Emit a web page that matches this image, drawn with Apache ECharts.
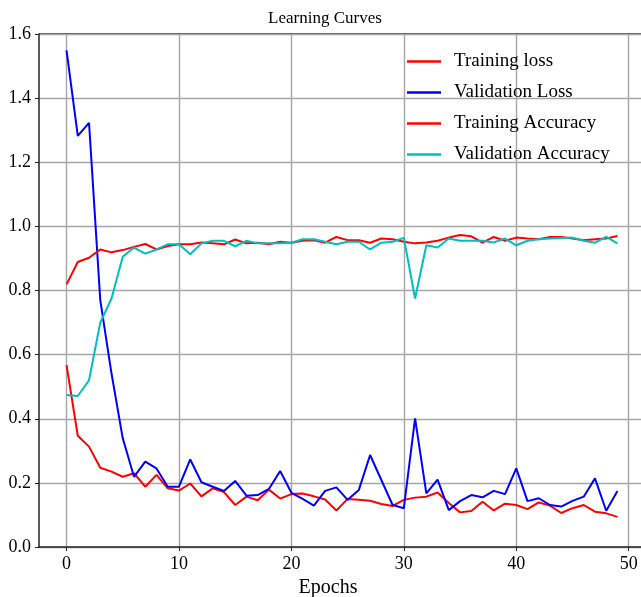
<!DOCTYPE html>
<html>
<head>
<meta charset="utf-8">
<script src="https://cdn.jsdelivr.net/npm/echarts@6/dist/echarts.min.js"></script>
<style>
html,body{margin:0;padding:0;background:#fff;overflow:hidden;}
#chart{width:650px;height:597px;}
</style>
</head>
<body>
<div id="chart"></div>
<script>
const epochs = Array.from({length: 50}, (_, i) => i);
const xTicks = [0, 10, 20, 30, 40, 50];
const seriesNames = ["Training loss", "Validation Loss", "Training Accuracy", "Validation Accuracy"];

const trainLoss = [0.567, 0.347, 0.313, 0.247, 0.235, 0.219, 0.230, 0.188, 0.225, 0.183,
  0.176, 0.198, 0.158, 0.183, 0.171, 0.131, 0.157, 0.146, 0.179, 0.151,
  0.165, 0.167, 0.158, 0.148, 0.114, 0.150, 0.147, 0.144, 0.134, 0.128,
  0.147, 0.154, 0.157, 0.170, 0.137, 0.108, 0.112, 0.141, 0.114, 0.135,
  0.131, 0.118, 0.139, 0.129, 0.106, 0.121, 0.131, 0.110, 0.105, 0.094];

const valLoss = [1.549, 1.282, 1.323, 0.770, 0.541, 0.339, 0.219, 0.266, 0.245, 0.188,
  0.188, 0.273, 0.202, 0.188, 0.175, 0.206, 0.160, 0.162, 0.181, 0.237,
  0.169, 0.150, 0.129, 0.175, 0.186, 0.147, 0.178, 0.287, 0.209, 0.131,
  0.121, 0.401, 0.167, 0.210, 0.115, 0.143, 0.162, 0.155, 0.175, 0.165,
  0.245, 0.143, 0.152, 0.131, 0.126, 0.144, 0.157, 0.214, 0.113, 0.175];

const trainAcc = [0.819, 0.889, 0.902, 0.928, 0.919, 0.926, 0.936, 0.945, 0.928, 0.939,
  0.944, 0.944, 0.950, 0.947, 0.944, 0.959, 0.947, 0.949, 0.944, 0.952,
  0.949, 0.955, 0.957, 0.949, 0.967, 0.957, 0.957, 0.949, 0.962, 0.960,
  0.952, 0.947, 0.950, 0.955, 0.965, 0.973, 0.969, 0.949, 0.967, 0.955,
  0.965, 0.962, 0.960, 0.967, 0.967, 0.962, 0.957, 0.960, 0.962, 0.970];

const valAcc = [0.474, 0.471, 0.520, 0.700, 0.775, 0.905, 0.934, 0.915, 0.928, 0.944,
  0.944, 0.913, 0.947, 0.955, 0.955, 0.938, 0.955, 0.947, 0.947, 0.947,
  0.949, 0.960, 0.960, 0.952, 0.944, 0.952, 0.952, 0.928, 0.949, 0.952,
  0.964, 0.775, 0.941, 0.934, 0.962, 0.955, 0.955, 0.955, 0.950, 0.962,
  0.941, 0.955, 0.960, 0.962, 0.964, 0.965, 0.955, 0.949, 0.967, 0.947];

const colors = ["#ff0000", "#0000ff", "#ff0000", "#00bfbf"];
const values = [trainLoss, valLoss, trainAcc, valAcc];
const FONT = "Liberation Serif";

const chart = echarts.init(document.getElementById('chart'), null, {renderer: 'canvas'});
chart.setOption({
  animation: false,
  backgroundColor: '#ffffff',
  title: {
    text: 'Learning Curves',
    left: 320, top: 5, textAlign: 'center',
    textStyle: {fontFamily: FONT, fontSize: 17, fontWeight: 'normal', color: '#000'}
  },
  legend: {
    orient: 'vertical',
    left: 402, top: 47,
    icon: 'rect',
    itemWidth: 34, itemHeight: 2.5, itemGap: 12,
    textStyle: {fontFamily: FONT, fontSize: 19, color: '#000', padding: [0, 0, 0, 8]},
    data: seriesNames
  },
  grid: {left: 39, top: 34, width: 606, height: 513, containLabel: false, outerBoundsMode: 'none', show: false},
  xAxis: {
    type: 'value', min: -2.45, max: 51.45,
    name: 'Epochs', nameLocation: 'middle', nameGap: 29,
    nameTextStyle: {fontFamily: FONT, fontSize: 20, color: '#000', padding: [0, 28, 0, 0]},
    axisLine: {show: true, onZero: false, lineStyle: {color: '#222', width: 1.5}},
    axisTick: {show: true, customValues: xTicks, length: 4, lineStyle: {color: '#222'}},
    axisLabel: {customValues: xTicks, fontFamily: FONT, fontSize: 18, color: '#000', margin: 8},
    splitLine: {show: true, lineStyle: {color: '#a6a6a6', width: 1.4}}
  },
  yAxis: {
    type: 'value', min: 0, max: 1.6, interval: 0.2,
    axisLine: {show: true, onZero: false, lineStyle: {color: '#222', width: 1.5}},
    axisTick: {show: true, length: 4, lineStyle: {color: '#222'}},
    axisLabel: {fontFamily: FONT, fontSize: 18, color: '#000', margin: 8,
      formatter: v => v.toFixed(1)},
    splitLine: {show: true, lineStyle: {color: '#a6a6a6', width: 1.4}}
  },
  series: seriesNames.map((name, i) => ({
    name: name,
    type: 'line',
    symbol: 'none',
    color: colors[i],
    lineStyle: {width: 2, color: colors[i]},
    data: epochs.map((e, j) => [e, values[i][j]])
  })),
  graphic: [{
    type: 'line',
    shape: {x1: 39, y1: 34, x2: 650, y2: 34},
    style: {stroke: '#222', lineWidth: 1.5},
    silent: true
  }]
});
</script>
</body>
</html>
